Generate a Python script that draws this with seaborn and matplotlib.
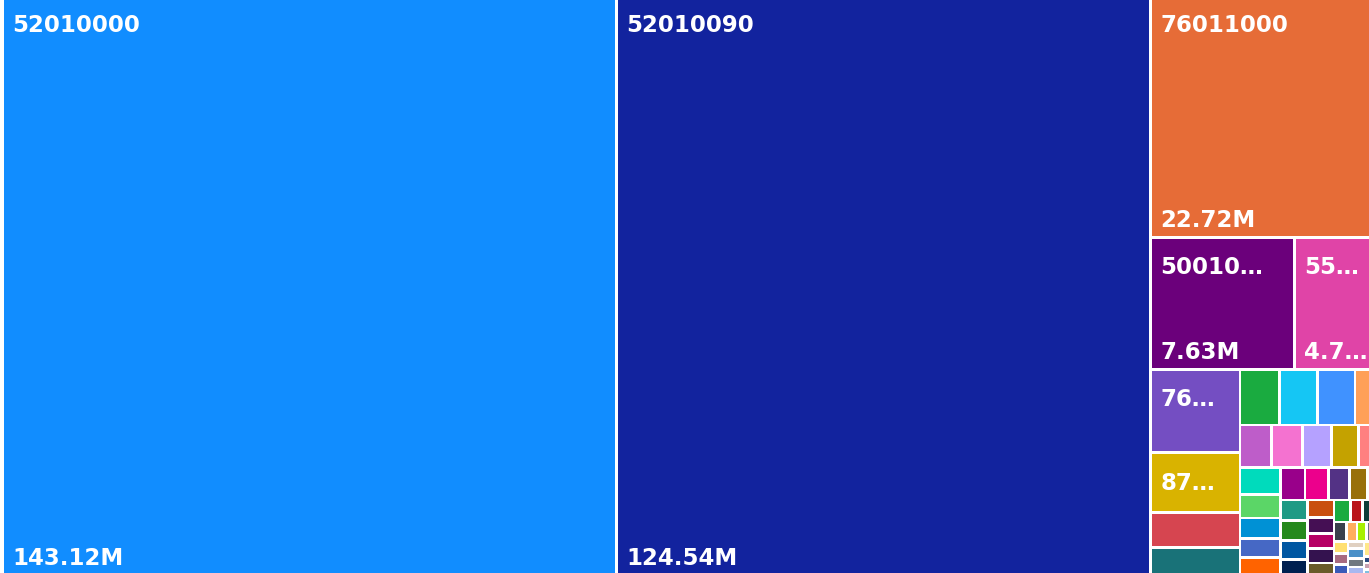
import matplotlib
matplotlib.use("Agg")
import matplotlib.pyplot as plt
from matplotlib.patches import Rectangle
import pandas as pd
import seaborn as sns

# ---------------- data ----------------
codes = ["52010000", "52010090", "76011000", "50010…", "55…", "76…", "87…"]
code_values = [143.12, 124.54, 22.72, 7.63, 4.75, 3.0, 2.15]   # millions

other_values = [
    1.25, 0.99,
    0.892, 0.852, 0.836, 0.65,
    0.545, 0.53, 0.501, 0.456, 0.441,
    0.44, 0.38, 0.334, 0.307, 0.289,
    0.315, 0.31, 0.272, 0.231, 0.214,
    0.221, 0.22, 0.206, 0.166,
    0.186, 0.173, 0.159, 0.152, 0.128,
    0.148, 0.102, 0.097, 0.095,
    0.097, 0.086, 0.072, 0.071, 0.069,
    0.067, 0.061, 0.061, 0.044,
    0.06, 0.055, 0.05, 0.045, 0.04, 0.035, 0.03, 0.03, 0.025, 0.025, 0.02, 0.02,
]

palette = [
    "#118DFF", "#12239E", "#E66C37", "#6B007B", "#E044A7", "#744EC2", "#D9B300",
    "#D64550", "#197278", "#1AAB40", "#15C6F4", "#4092FF", "#FFA058", "#BE5DC9",
    "#F472D0", "#B5A1FF", "#C4A200", "#FF8080", "#00DBBC", "#5BD667", "#0091D5",
    "#4668C5", "#FF6300", "#99008A", "#EC008C", "#533285", "#99700A", "#FF4141",
    "#1F9A85", "#25891C", "#0057A2", "#002050", "#C94F0F", "#450F54", "#B60064",
    "#34124F", "#6A5A29", "#1AAB40", "#BA141A", "#0C3D37", "#0B511F",
    "#3A404C", "#FFAE5E", "#A6F000", "#6C7480", "#2E5E9E",
    "#FFE070", "#A86B80", "#3A5AB8", "#E0D0C0",
    "#4A90C8", "#707880", "#A8B8F0", "#FFE88A", "#2A4A90", "#A09080", "#2A4A80",
    "#C8A0B0", "#80C0E0", "#E8A070", "#90A040", "#6050A0",
]

values = code_values + other_values
names = codes + [""] * len(other_values)
df = pd.DataFrame({"name": names, "value": values, "color": palette[:len(values)]})

# ---------------- layout (d3 squarify, golden ratio) ----------------
PHI = (1 + 5 ** 0.5) / 2


def squarify(vals, x0, y0, x1, y1, ratio=PHI):
    n = len(vals)
    rects = [None] * n
    total = float(sum(vals))
    i0 = 0
    while i0 < n:
        dx, dy = x1 - x0, y1 - y0
        i1 = i0
        s = vals[i1]
        i1 += 1
        vmin = vmax = s
        alpha = max(dy / dx, dx / dy) / (total * ratio)
        beta = s * s * alpha
        best = max(vmax / beta, beta / vmin)
        while i1 < n:
            v = vals[i1]
            s2 = s + v
            mn, mx = min(vmin, v), max(vmax, v)
            beta = s2 * s2 * alpha
            r = max(mx / beta, beta / mn)
            if r > best:
                break
            s, vmin, vmax, best = s2, mn, mx, r
            i1 += 1
        if dx < dy:      # row across the top
            yk = y0 + dy * s / total
            xa = x0
            for i in range(i0, i1):
                w = dx * vals[i] / s
                rects[i] = (xa, y0, xa + w, yk)
                xa += w
            y0 = yk
        else:            # column on the left
            xk = x0 + dx * s / total
            ya = y0
            for i in range(i0, i1):
                h = dy * vals[i] / s
                rects[i] = (x0, ya, xk, ya + h)
                ya += h
            x0 = xk
        total -= s
        i0 = i1
    return rects


# ---------------- drawing ----------------
sns.set_theme(style="white")
plt.rcParams["font.family"] = ["DejaVu Sans"]

VIEW_W, VIEW_H = 1369, 573
fig = plt.figure(figsize=(VIEW_W / 100, VIEW_H / 100), dpi=100)
fig.patch.set_facecolor("white")
ax = fig.add_axes([0, 0, 1, 1])
ax.set_xlim(0, VIEW_W)
ax.set_ylim(VIEW_H, 0)
ax.axis("off")

# treemap area (slightly larger than the visible window, as in the source)
TM_X0, TM_Y0, TM_X1, TM_Y1 = 2.5, -5.0, 1384.0, 575.0
rects = squarify(list(df["value"]), TM_X0, TM_Y0, TM_X1, TM_Y1)

GAP = 1.3
for (x0, y0, x1, y1), c in zip(rects, df["color"]):
    ax.add_patch(Rectangle((x0 + GAP, y0 + GAP), (x1 - x0) - 2 * GAP,
                           (y1 - y0) - 2 * GAP, facecolor=c, edgecolor="none",
                           linewidth=0))

fig.canvas.draw()
renderer = fig.canvas.get_renderer()
FS = 16.5
PAD = 10


def fitted_text(x, y, full, avail):
    t = ax.text(x, y, full, color="white", fontsize=FS, fontweight="bold",
                ha="left", va="baseline", clip_on=True)
    if t.get_window_extent(renderer).width <= avail:
        return t
    base = full.rstrip("…")
    for k in range(len(base) - 1, 0, -1):
        t.set_text(base[:k] + "…")
        if t.get_window_extent(renderer).width <= avail:
            return t
    t.set_text("")
    return t


for (x0, y0, x1, y1), name, v in zip(rects, df["name"], df["value"]):
    w, h = x1 - x0, y1 - y0
    if not name or w < 50 or h < 50:
        continue
    avail = min(x1, VIEW_W) - (x0 + PAD)
    fitted_text(x0 + PAD, y0 + 37, name, avail)
    if h >= 100:
        fitted_text(x0 + PAD, min(y1, 575) - 10, f"{v:.2f}M", avail)

fig.savefig("out.png", dpi=100, facecolor="white")
